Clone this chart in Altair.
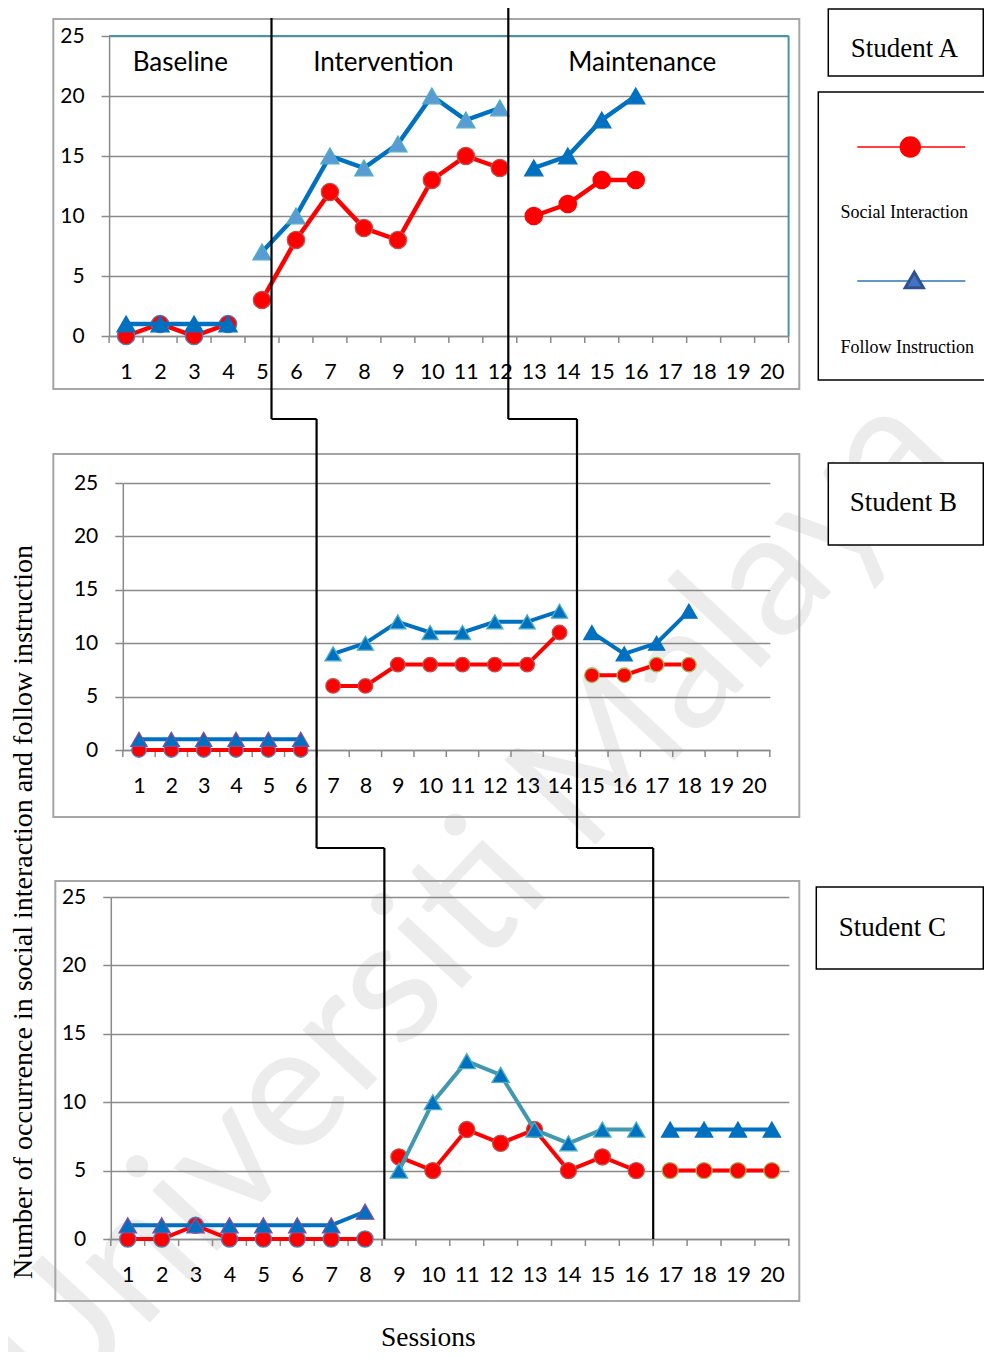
import altair as alt
import pandas as pd

# ---------------- values ----------------
sessions = list(range(1, 21))
y_ticks = [0, 5, 10, 15, 20, 25]
tick_bounds = [s - 0.5 for s in sessions] + [20.5]
phase_names = ["Baseline", "Intervention", "Maintenance"]
series_names = ["Social Interaction", "Follow Instruction"]
student_names = ["Student A", "Student B", "Student C"]

a_social = [0, 1, 0, 1, 3, 8, 12, 9, 8, 13, 15, 14, 10, 11, 13, 13]
a_follow = [1, 1, 1, 1, 7, 10, 15, 14, 16, 20, 18, 19, 14, 15, 18, 20]
a_phase_lengths = [4, 8, 4]
a_phase_changes = [5.28, 12.25]

b_social = [0, 0, 0, 0, 0, 0, 6, 6, 8, 8, 8, 8, 8, 11, 7, 7, 8, 8]
b_follow = [1, 1, 1, 1, 1, 1, 9, 10, 12, 11, 11, 12, 12, 13, 11, 9, 10, 13]
b_phase_lengths = [6, 8, 4]
b_phase_changes = [6.49, 14.54]

c_social = [0, 0, 1, 0, 0, 0, 0, 0, 6, 5, 8, 7, 8, 5, 6, 5, 5, 5, 5, 5]
c_follow = [1, 1, 1, 1, 1, 1, 1, 2, 5, 10, 13, 12, 8, 7, 8, 8, 8, 8, 8, 8]
c_phase_lengths = [8, 8, 4]
c_phase_changes = [8.57, 16.5]

y_title = "Number of occurrence in social interaction and follow instruction"
x_title = "Sessions"
watermark = "Universiti Malaya"

# ---------------- layout (page pixel coordinates) ----------------
PAGE = 8
RIGHT_EDGE, BOTTOM_EDGE = 984, 1352
LEFT, TOP, SPACING = 108.8, 36, 147
# true plot widths/heights, and the view widths used only for centring in the column
SIZES = {"A": (679.5, 300), "B": (647, 267), "C": (678, 342)}
VIEW_W = {"A": 674.4, "B": 647, "C": 671}
COLW = max(VIEW_W.values())
ORIG = {}
_y = TOP
for _k in "ABC":
    _w, _h = SIZES[_k]
    ORIG[_k] = (LEFT + (COLW - VIEW_W[_k]) / 2, _y)
    _y += _h + SPACING

FRAMES = {"A": (53, 19, 799, 389), "B": (53, 454, 799, 817), "C": (55, 881, 799, 1301)}
BOXES = {"A": (828, 9, 983, 76), "B": (828, 463, 983, 545), "C": (816, 887, 983, 969)}
BOX_TEXT = {"A": (904, 49), "B": (903, 503), "C": (892, 928)}
PHASE_LABEL_POS = [(180, 63), (383, 63), (642, 63)]
LINE_TOPS_A = [18, 8]
CONNECT_AB, CONNECT_BC = 419, 848

GRID = "#8a8a8a"
FRAME = "#a6a6a6"
TEAL = "#4394ad"
RED = "#ff0000"
BLUE = "#0070c0"
SERIF = "Liberation Serif"
SANS = "Lato"

STYLE = {
    "A": dict(lw=4.5, csize=300, tsize=330,
              c_stroke=["#4f81bd", "#c0504d", RED],
              t_fill=[BLUE, "#5b9bd5", BLUE],
              t_stroke=[BLUE, "#4bacc6", BLUE],
              f_line=[BLUE, BLUE, BLUE]),
    "B": dict(lw=4, csize=210, tsize=260,
              c_stroke=["#4f81bd", "#c0504d", "#9bbb59"],
              t_fill=[BLUE, BLUE, BLUE],
              t_stroke=["#7f4f9f", "#4bacc6", BLUE],
              f_line=[BLUE, BLUE, BLUE]),
    "C": dict(lw=4, csize=260, tsize=300,
              c_stroke=["#4f81bd", "#c0504d", "#9bbb59"],
              t_fill=[BLUE, BLUE, BLUE],
              t_stroke=["#7f4f9f", "#4bacc6", BLUE],
              f_line=[BLUE, "#4198af", BLUE]),
}

X_AXIS = alt.Axis(values=sessions, grid=False, ticks=False, domainColor=GRID, domainWidth=1.5,
                  labelFont=SANS, labelFontSize=21.5, labelColor="black", labelPadding=25,
                  labelOverlap=False, labelFlush=False, format="d", title=None)
Y_AXIS = alt.Axis(values=y_ticks, grid=True, gridColor=GRID, gridWidth=1.5, domainColor=GRID,
                  domainWidth=1.5, tickColor=GRID, tickWidth=1.5, tickSize=8,
                  labelFont=SANS, labelFontSize=21, labelColor="black", labelPadding=17,
                  format="d", title=None)


def X(k, field="x"):
    return alt.X(f"{field}:Q", scale=alt.Scale(domain=[0.5, 20.5], nice=False, zero=False,
                                               range=[0, SIZES[k][0]]), axis=X_AXIS)


def Y(field="y"):
    return alt.Y(f"{field}:Q", scale=alt.Scale(domain=[0, 25], nice=False, zero=False), axis=Y_AXIS)


one = pd.DataFrame({"k": [0]})


def rel(k, x, y):
    return x - ORIG[k][0], y - ORIG[k][1]


def page_x(k, v):
    return ORIG[k][0] + (v - 0.5) * SIZES[k][0] / 20


def rect_px(k, x1, y1, x2, y2, **mk):
    a, b = rel(k, x1, y1)
    c, d = rel(k, x2, y2)
    return alt.Chart(one).mark_rect(**mk).encode(
        x=alt.value(a), y=alt.value(b), x2=alt.value(c), y2=alt.value(d))


def seg_px(k, x1, y1, x2, y2, **mk):
    a, b = rel(k, x1, y1)
    c, d = rel(k, x2, y2)
    return alt.Chart(one).mark_rule(**mk).encode(
        x=alt.value(a), y=alt.value(b), x2=alt.value(c), y2=alt.value(d))


def text_px(k, t, x, y, **mk):
    a, b = rel(k, x, y)
    return alt.Chart(one).mark_text(text=t, **mk).encode(x=alt.value(a), y=alt.value(b))


def point_px(k, x, y, **mk):
    a, b = rel(k, x, y)
    return alt.Chart(one).mark_point(**mk).encode(x=alt.value(a), y=alt.value(b))


def build_df(social, follow, lengths):
    phases = []
    for name, n in zip(phase_names, lengths):
        phases += [name] * n
    rows = []
    for i, (s, f, p) in enumerate(zip(social, follow, phases)):
        rows.append(dict(x=i + 1, y=s, series=series_names[0], phase=p))
        rows.append(dict(x=i + 1, y=f, series=series_names[1], phase=p))
    return pd.DataFrame(rows)


CHANGES = {"A": a_phase_changes, "B": b_phase_changes, "C": c_phase_changes}


def panel(k, social, follow, lengths):
    w, h = SIZES[k]
    st = STYLE[k]
    df = build_df(social, follow, lengths)
    layers = []
    if k == "A":
        layers.append(text_px(k, watermark, 468, 905, font=SANS, fontSize=174, angle=313,
                              color="#ececec", align="center", baseline="middle"))
    fx1, fy1, fx2, fy2 = FRAMES[k]
    layers.append(rect_px(k, fx1, fy1, fx2, fy2, fillOpacity=0, stroke=FRAME, strokeWidth=2))

    # tick marks at category boundaries (also carries the x axis)
    layers.append(alt.Chart(pd.DataFrame({"x": tick_bounds})).mark_rule(color=GRID, strokeWidth=1.5)
                  .encode(x=X(k), y=alt.value(h), y2=alt.value(h + 7)))

    if k == "A":
        layers.append(alt.Chart(one).mark_rule(color=TEAL, strokeWidth=2).encode(
            x=alt.value(0), x2=alt.value(w), y=alt.value(0), y2=alt.value(0)))
        layers.append(alt.Chart(one).mark_rule(color=TEAL, strokeWidth=2).encode(
            x=alt.value(w), x2=alt.value(w), y=alt.value(0), y2=alt.value(h)))

    # data
    for i, ph in enumerate(phase_names):
        d = df[(df.phase == ph) & (df.series == series_names[0])]
        layers.append(alt.Chart(d).mark_line(color=RED, strokeWidth=st["lw"]).encode(x=X(k), y=Y()))
        layers.append(alt.Chart(d).mark_point(shape="circle", filled=True, fill=RED, opacity=1,
                                              stroke=st["c_stroke"][i], strokeWidth=1.3,
                                              size=st["csize"]).encode(x=X(k), y=Y()))
    for i, ph in enumerate(phase_names):
        d = df[(df.phase == ph) & (df.series == series_names[1])]
        layers.append(alt.Chart(d).mark_line(color=st["f_line"][i], strokeWidth=st["lw"]).encode(x=X(k), y=Y()))
        layers.append(alt.Chart(d).mark_point(shape="triangle-up", filled=True, fill=st["t_fill"][i],
                                              opacity=1, stroke=st["t_stroke"][i], strokeWidth=1.3,
                                              size=st["tsize"]).encode(x=X(k), y=Y()))

    # phase-change lines
    ch = CHANGES[k]
    for i, v in enumerate(ch):
        if k == "A":
            top = LINE_TOPS_A[i] - ORIG[k][1]
            bot = CONNECT_AB - ORIG[k][1]
        elif k == "B":
            top = CONNECT_AB - ORIG[k][1]
            bot = CONNECT_BC - ORIG[k][1]
        else:
            top = CONNECT_BC - ORIG[k][1]
            bot = h
        vd = pd.DataFrame({"x": [v]})
        layers.append(alt.Chart(vd).mark_rule(color="black", strokeWidth=2.2).encode(
            x=X(k), y=alt.value(top), y2=alt.value(bot)))
        if k in ("A", "B"):
            nk = "B" if k == "A" else "C"
            nx = page_x(nk, CHANGES[nk][i]) - ORIG[k][0]
            layers.append(alt.Chart(vd).mark_rule(color="black", strokeWidth=2.2).encode(
                x=X(k), x2=alt.value(nx), y=alt.value(bot)))

    if k == "A":
        for name, (px, py) in zip(phase_names, PHASE_LABEL_POS):
            layers.append(text_px(k, name, px, py, font=SANS, fontSize=26, color="black",
                                  align="center", baseline="middle"))

    # student label box
    bx1, by1, bx2, by2 = BOXES[k]
    layers.append(rect_px(k, bx1, by1, bx2, by2, fill="white", stroke="black", strokeWidth=1.5))
    tx, ty = BOX_TEXT[k]
    layers.append(text_px(k, student_names["ABC".index(k)], tx, ty, font=SERIF, fontSize=27,
                          color="black", align="center", baseline="middle"))

    if k == "A":
        layers.append(rect_px(k, 818, 92, 1000, 380, fill="white", stroke="black", strokeWidth=1.5))
        layers.append(seg_px(k, 857, 147, 965, 147, color=RED, strokeWidth=1.6))
        layers.append(point_px(k, 910, 147, shape="circle", filled=True, fill=RED, opacity=1, size=460))
        layers.append(text_px(k, series_names[0], 904, 213, font=SERIF, fontSize=18, color="black",
                              align="center", baseline="middle"))
        layers.append(seg_px(k, 857, 281, 965, 281, color="#2e75b6", strokeWidth=1.6))
        layers.append(point_px(k, 914, 280, shape="triangle-up", filled=True, fill="#4472c4", opacity=1,
                               stroke="#2f528f", strokeWidth=3, size=330))
        layers.append(text_px(k, series_names[1], 907, 348, font=SERIF, fontSize=18, color="black",
                              align="center", baseline="middle"))

    if k == "C":
        layers.append(text_px(k, y_title, 24, 912, font=SERIF, fontSize=28, angle=270,
                              color="black", align="center", baseline="middle"))
        layers.append(text_px(k, x_title, 428, 1338, font=SERIF, fontSize=27.5,
                              color="black", align="center", baseline="middle"))

    return alt.layer(*layers).properties(width=VIEW_W[k], height=h)


pA = panel("A", a_social, a_follow, a_phase_lengths)
pB = panel("B", b_social, b_follow, b_phase_lengths)
pC = panel("C", c_social, c_follow, c_phase_lengths)

chart = alt.vconcat(pA, pB, pC, spacing=SPACING, center=True, bounds="flush").properties(
    autosize=alt.AutoSizeParams(type="none"),
    padding={"left": LEFT - PAGE, "top": TOP - PAGE,
             "right": RIGHT_EDGE - LEFT, "bottom": BOTTOM_EDGE - TOP},
    background="white",
).configure_view(stroke=None)

chart.save("out.html", embed_options={"renderer": "svg", "actions": False})
